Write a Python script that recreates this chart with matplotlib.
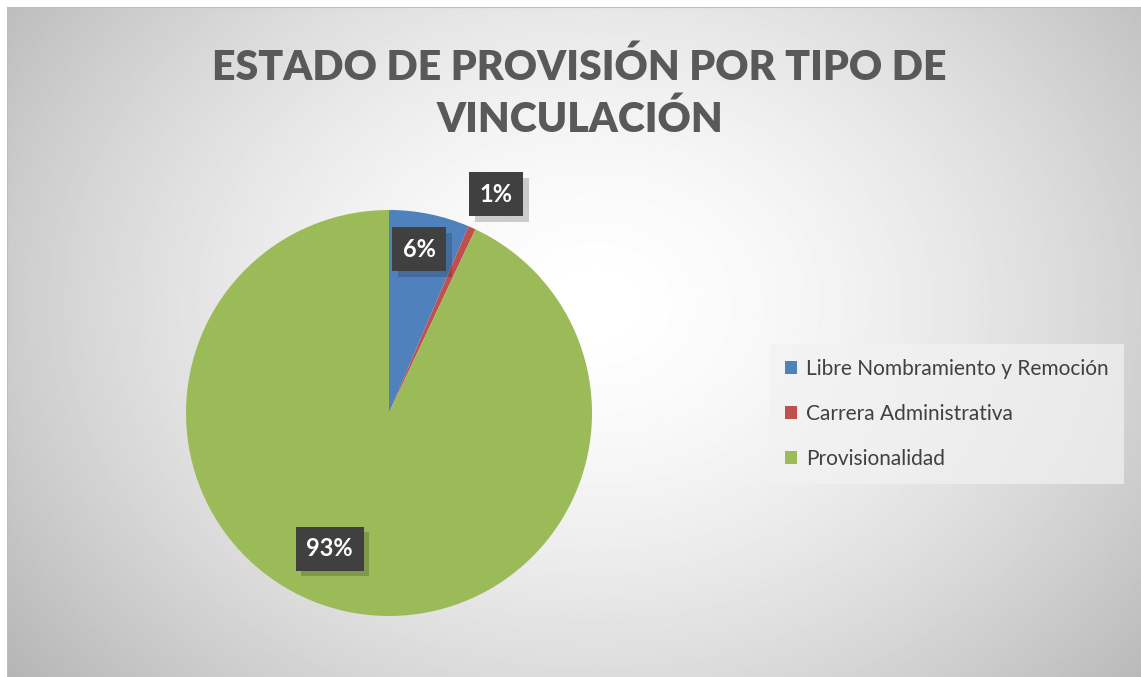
import matplotlib.pyplot as plt
import matplotlib.patheffects as pe
import numpy as np

plt.rcParams['font.family'] = ['Lato', 'DejaVu Sans']

# datos
categorias = ['Libre Nombramiento y Remoción', 'Carrera Administrativa', 'Provisionalidad']
porcentajes = [6.4, 0.6, 93.0]
etiquetas = ['6%', '1%', '93%']
colores = ['#4f81bd', '#c0504d', '#9bbb59']
titulo = 'ESTADO DE PROVISIÓN POR TIPO DE\nVINCULACIÓN'

# posicion de etiquetas (fraccion del radio, giro en grados)
dist_etiquetas = [0.82, 1.2, 0.73]
giro_etiquetas = [1, -2, -11]

W, H = 1141, 677
fig = plt.figure(figsize=(W / 100, H / 100), dpi=100)
fig.patch.set_facecolor('white')

# fondo con degradado radial
bg = fig.add_axes([7 / W, 0, 1 - 7 / W, 1 - 7 / H])
yy, xx = np.mgrid[0:H, 0:W]
r = np.sqrt(((xx - 590) / 700.0) ** 2 + ((yy - 300) / 560.0) ** 2)
g = np.clip(1.0 - 0.26 * r ** 1.6, 0, 1)
bg.imshow(g, cmap='gray', vmin=0, vmax=1, aspect='auto', interpolation='bilinear')
bg.set_xticks([])
bg.set_yticks([])
for s in ['right', 'bottom']:
    bg.spines[s].set_visible(False)
for s in ['left', 'top']:
    bg.spines[s].set_color('#bfbfbf')

fig.text(0.508, 0.862, titulo, ha='center', va='center', fontsize=29.5,
         fontweight='heavy', color='#595959', linespacing=1.4)

cx, cy, rad = 389, 413, 203
ax = fig.add_axes([(cx - rad) / W, (H - cy - rad) / H, 2 * rad / W, 2 * rad / H])
ax.set_facecolor('none')
wedges, _ = ax.pie(porcentajes, colors=colores, startangle=90, counterclock=False,
                   radius=1.0, wedgeprops=dict(linewidth=0))
ax.set_xlim(-1, 1)
ax.set_ylim(-1, 1)
ax.set_aspect('equal')
ax.axis('off')

for w, lab, d, giro in zip(wedges, etiquetas, dist_etiquetas, giro_etiquetas):
    ang = np.deg2rad((w.theta1 + w.theta2) / 2 + giro)
    t = ax.text(d * np.cos(ang), d * np.sin(ang), lab, ha='center', va='center',
                fontsize=17, fontweight='bold', color='white', zorder=5,
                bbox=dict(boxstyle='square,pad=0.45', facecolor='#404040',
                          linewidth=0))
    t.get_bbox_patch().set_path_effects([pe.SimplePatchShadow(offset=(4, -4), alpha=0.2),
                                         pe.Normal()])

leg = fig.legend(wedges, categorias, loc='center left',
                 bbox_to_anchor=(770 / W, 1 - 414 / H), frameon=True,
                 fontsize=15, labelcolor='#404040', handlelength=0.6,
                 handleheight=0.6, handletextpad=0.45, labelspacing=1.2,
                 borderpad=0.7, borderaxespad=0, fancybox=False)
leg.get_frame().set_facecolor('#f2f2f2')
leg.get_frame().set_alpha(0.7)
leg.get_frame().set_linewidth(0)

fig.savefig('out.png', dpi=100)
